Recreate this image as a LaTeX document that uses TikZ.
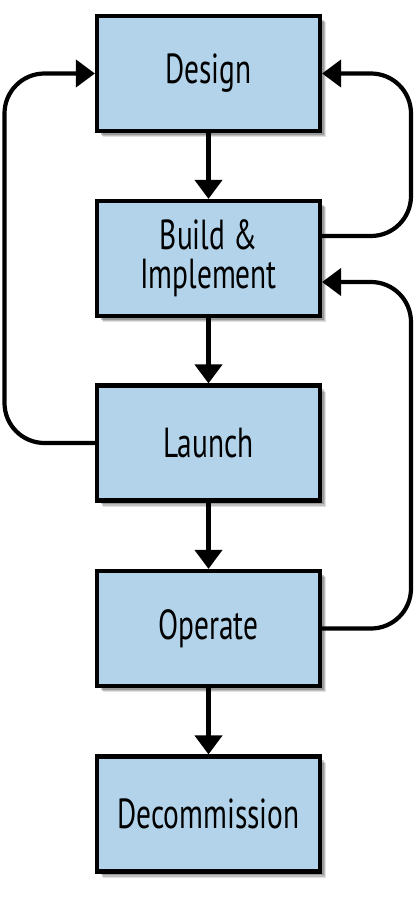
\documentclass[tikz,border=0pt]{standalone}
\usepackage{fontspec}
\setmainfont{PT Sans}[FakeStretch=0.70]
\usetikzlibrary{arrows.meta,shadows}
\definecolor{boxblue}{HTML}{B3D3EA}
\begin{document}
\begin{tikzpicture}[x=1pt,y=-1pt,
  stage/.style={draw=black, line width=4.2pt, fill=boxblue,
    minimum width=223pt, minimum height=115pt, inner sep=0pt, align=center,
    font=\fontsize{42}{39}\selectfont,
    drop shadow={shadow xshift=6pt,shadow yshift=-6pt,opacity=.12,fill=black},
    drop shadow={shadow xshift=5pt,shadow yshift=-5pt,opacity=.15,fill=black},
    drop shadow={shadow xshift=3.5pt,shadow yshift=-3.5pt,opacity=.2,fill=black}},
  arr/.style={line width=4.2pt, -{Triangle[length=19pt,width=27pt]}},
  loop/.style={arr, rounded corners=40pt}]
\useasboundingbox (0,0) rectangle (416,902);
\node[stage] (d) at (208.5,73.5) {Design};
\node[stage] (b) at (208.5,258.5) {Build \&\\Implement};
\node[stage] (l) at (208.5,443) {Launch};
\node[stage] (o) at (208.5,628.5) {Operate};
\node[stage] (c) at (208.5,814) {Decommission};
\draw[arr] (d) -- (b);
\draw[arr] (b) -- (l);
\draw[arr] (l) -- (o);
\draw[arr] (o) -- (c);
\coordinate (lc) at (4.5,73.5);
\coordinate (rc1) at (411,73.5);
\coordinate (rc2) at (411,282);
\draw[loop] (l.west) -| (lc) -- (d.west);
\draw[loop] (b.east |- 0,236) -| (rc1) -- (d.east);
\draw[loop] (o.east) -| (rc2) -- (b.east |- 0,282);
\end{tikzpicture}
\end{document}
